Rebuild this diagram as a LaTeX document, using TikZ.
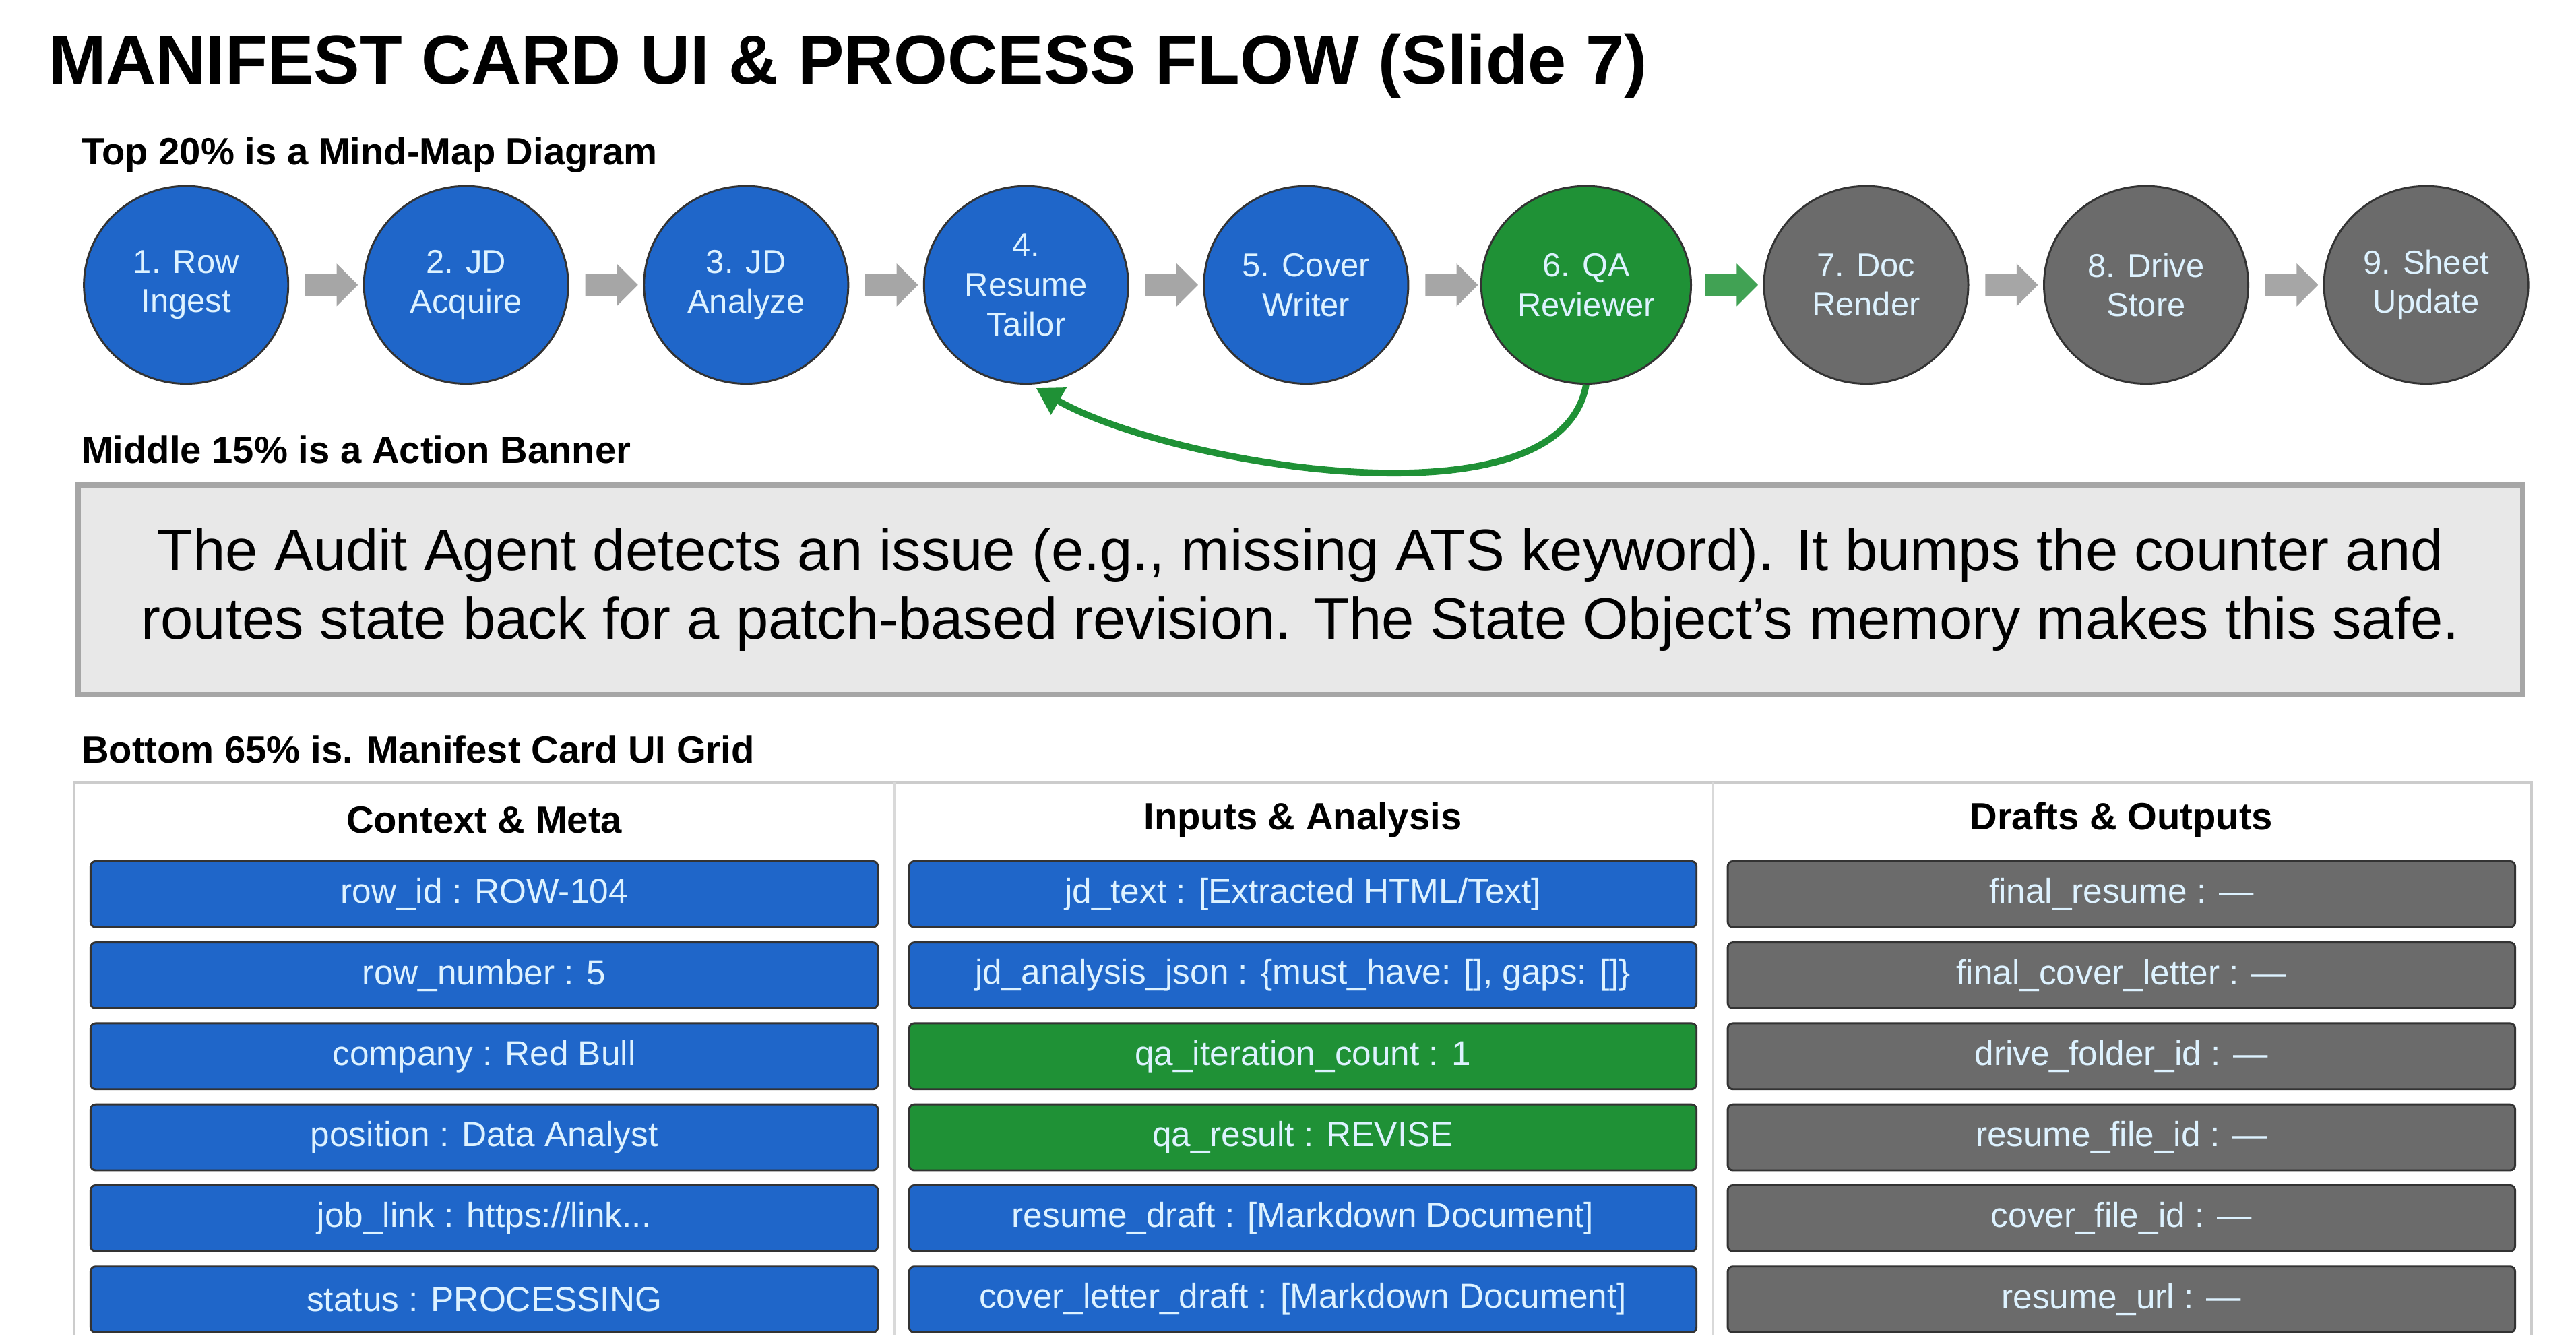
\documentclass[tikz,border=0pt]{standalone}
\usepackage{fontspec}
\setmainfont{Liberation Sans}
\usetikzlibrary{shapes.arrows,shapes.geometric,positioning,arrows.meta,calc}
\definecolor{stepblue}{HTML}{1F66C9}
\definecolor{stepgreen}{HTML}{1F9136}
\definecolor{stepgray}{HTML}{6B6B6B}
\definecolor{steptext}{HTML}{DDF2FF}
\tikzset{
  stage/.style={ellipse, draw=black!80, line width=1.2pt, minimum width=124pt, minimum height=120pt, align=center, text=steptext, font=\fontsize{20}{24}\selectfont},
  flowarrow/.style={single arrow, draw=none, fill=gray!70, minimum height=32pt, minimum width=26pt, single arrow head extend=3pt, inner sep=3pt},
  field/.style={draw=black!80, line width=1.2pt, rounded corners=3pt, minimum width=478pt, minimum height=40pt, text=steptext, font=\fontsize{21}{24}\selectfont},
  heading/.style={anchor=west, font=\bfseries\fontsize{23}{26}\selectfont},
  colhead/.style={font=\bfseries\fontsize{23}{26}\selectfont}
}
\begin{document}
\begin{tikzpicture}[x=1pt,y=-1pt]
	\useasboundingbox (0,0) rectangle (1564,811);
	% title and section labels
	\node[anchor=west, font=\bfseries\fontsize{42}{46}\selectfont] (title) at (26,40) {MANIFEST CARD UI \& PROCESS FLOW (Slide 7)};
	\node[heading] (toplab) at (46,94) {Top 20\% is a Mind-Map Diagram};
	\node[heading] (midlab) at (46,273) {Middle 15\% is a Action Banner};
	\node[heading] (botlab) at (46,455) {Bottom 65\% is. Manifest Card UI Grid};
	
	% process circles
	\foreach \i/\txt/\col in {1/{1. Row\\Ingest}/stepblue, 2/{2. JD\\Acquire}/stepblue, 3/{3. JD\\Analyze}/stepblue, 4/{4.\\Resume\\Tailor}/stepblue, 5/{5. Cover\\Writer}/stepblue, 6/{6. QA\\Reviewer}/stepgreen, 7/{7. Doc\\Render}/stepgray, 8/{8. Drive\\Store}/stepgray, 9/{9. Sheet\\Update}/stepgray}
		\node[stage, fill=\col] (c\i) at ({113+170*(\i-1)},173) {\txt};
	
	% arrows between circles
	\foreach \i in {1,...,8}{
		\pgfmathtruncatemacro{\j}{\i+1}
		\ifnum\i=6
			\node[flowarrow, fill=stepgreen!85] (a\i) at ($(c\i)!0.5!(c\j)$) {};
		\else
			\node[flowarrow] (a\i) at ($(c\i)!0.5!(c\j)$) {};
		\fi
	}
	
	% feedback loop
	\coordinate (fb) at ($(c4.south)+(6,2)$);
	\draw[stepgreen, line width=4pt, -{Triangle[length=16pt,width=18pt]}] (c6.south) to[out=-100, in=-30, looseness=0.7] (fb);
	
	% banner
	\node[draw=gray!70, fill=gray!18, line width=3pt, minimum width=1484pt, minimum height=127pt, anchor=north west, align=center, font=\fontsize{35.5}{42}\selectfont] (banner) at (46,293) {The Audit Agent detects an issue (e.g., missing ATS keyword). It bumps the counter and\\routes state back for a patch-based revision. The State Object’s memory makes this safe.};
	
	% grid frame
	\draw[gray!40, line width=1.5pt] (45,811) -- (45,475) -- (1537,475) -- (1537,811);
	\draw[gray!30, line width=1pt] (543,475) -- (543,811);
	\draw[gray!30, line width=1pt] (1040,475) -- (1040,811);
	\node[colhead] (h1) at (294,498) {Context \& Meta};
	\node[colhead] (h2) at (791,498) {Inputs \& Analysis};
	\node[colhead] (h3) at (1288,498) {Drafts \& Outputs};
	
	% fields
	\foreach \r/\txt in {1/{row\_id : ROW-104}, 2/{row\_number : 5}, 3/{company : Red Bull}, 4/{position : Data Analyst}, 5/{job\_link : https://link...}, 6/{status : PROCESSING}}
		\node[field, fill=stepblue] (f1\r) at (294,{543+49.2*(\r-1)}) {\txt};
	\foreach \r/\txt/\col in {1/{jd\_text : [Extracted HTML/Text]}/stepblue, 2/{jd\_analysis\_json : \{must\_have: [], gaps: []\}}/stepblue, 3/{qa\_iteration\_count : 1}/stepgreen, 4/{qa\_result : REVISE}/stepgreen, 5/{resume\_draft : [Markdown Document]}/stepblue, 6/{cover\_letter\_draft : [Markdown Document]}/stepblue}
		\node[field, fill=\col] (f2\r) at (791,{543+49.2*(\r-1)}) {\txt};
	\foreach \r/\txt in {1/{final\_resume : —}, 2/{final\_cover\_letter : —}, 3/{drive\_folder\_id : —}, 4/{resume\_file\_id : —}, 5/{cover\_file\_id : —}, 6/{resume\_url : —}}
		\node[field, fill=stepgray] (f3\r) at (1288,{543+49.2*(\r-1)}) {\txt};
\end{tikzpicture}
\end{document}
